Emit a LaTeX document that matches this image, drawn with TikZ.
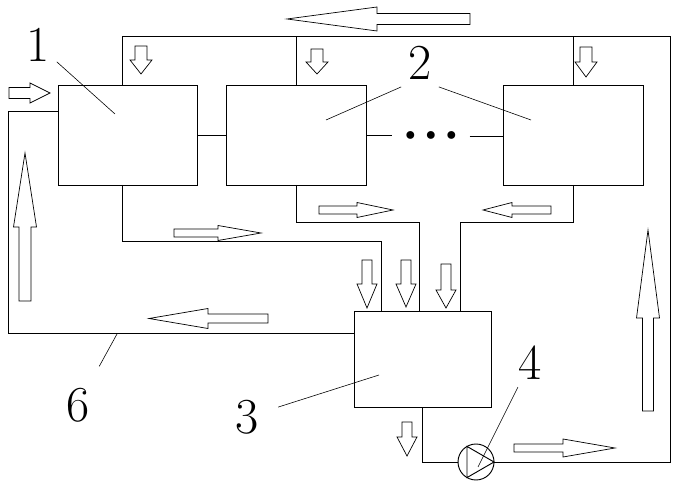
\documentclass[tikz,border=0pt]{standalone}
\usepackage{tikz}
\usetikzlibrary{positioning, calc}
\newcommand{\hflow}[6]{\draw[flow] (#1,#4-#5) -- (#2,#4-#5) -- (#2,#4-#6) -- (#3,#4) -- (#2,#4+#6) -- (#2,#4+#5) -- (#1,#4+#5) -- cycle;}
\newcommand{\vflow}[6]{\draw[flow] (#4-#5,#1) -- (#4-#5,#2) -- (#4-#6,#2) -- (#4,#3) -- (#4+#6,#2) -- (#4+#5,#2) -- (#4+#5,#1) -- cycle;}

\begin{document}
\begin{tikzpicture}[x=0.03cm, y=-0.03cm,
    unit/.style={rectangle, draw, line width=0.8pt, inner sep=0pt, outer sep=0pt},
    pipe/.style={line width=0.8pt},
    flow/.style={line width=0.6pt, line join=miter},
    leader/.style={line width=0.5pt},
    num/.style={font=\fontsize{43}{43}\selectfont, inner sep=6pt}]
    \useasboundingbox (0,0) rectangle (676,489);
    \node[unit, minimum width=4.17cm, minimum height=3cm] (b1) at (127.5,135) {};
    \node[unit, minimum width=4.2cm, minimum height=3cm] (b2) at (296,135) {};
    \node[unit, minimum width=4.2cm, minimum height=3cm] (bn) at (573,135) {};
    \node[unit, minimum width=4.11cm, minimum height=2.88cm] (tank) at (422.5,359) {};
    \node[circle, draw, line width=0.8pt, minimum size=1.08cm, inner sep=0pt, outer sep=0pt] (pump) at (476,462) {};
    \node[font=\LARGE, inner xsep=11pt, inner ysep=0pt] (dots) at (431,136) {$\bullet\hspace{5pt}\bullet\hspace{5pt}\bullet$};

    % supply line
    \coordinate (tl) at (122,36);
    \coordinate (tr) at (670,36);
    \draw[pipe] (b1.north -| tl) -- (tl) -- (tr) -- (tr |- pump.east) -- (pump.east);
    \draw[pipe] (b2.north) -- (b2.north |- tl);
    \draw[pipe] (bn.north) -- (bn.north |- tl);
    \draw[pipe] (b1.east) -- (b2.west);
    \draw[pipe] (b2.east) -- (b2.east -| dots.west);
    \draw[pipe] (dots.east) -- (dots.east -| bn.west);

    % return lines
    \coordinate (r1) at (381,241);
    \coordinate (r2) at (419,222);
    \coordinate (r3) at (460,222);
    \draw[pipe] (b1.south -| tl) |- (r1) -- (r1 |- tank.north);
    \draw[pipe] (b2.south) |- (r2) -- (r2 |- tank.north);
    \draw[pipe] (bn.south) |- (r3) -- (r3 |- tank.north);
    \coordinate (lb) at (8,333);
    \coordinate (lt) at (8,111);
    \draw[pipe] (tank.west |- lb) -- (lb) -- (lt) -- (lt -| b1.west);
    \draw[pipe] (tank.south) |- (pump.west);
    \draw[pipe] (pump.120) -- (pump.east) -- (pump.240) -- cycle;

    % labels
    \node[num] (l1) at (38,45) {1};
    \node[num] (l2) at (420,63) {2};
    \node[num] (l3) at (247,417) {3};
    \node[num] (l4) at (530,363) {4};
    \node[num] (l6) at (78,405) {6};
    \coordinate (p1) at (115,114);
    \coordinate (p2a) at (326,120);
    \coordinate (p2b) at (531,120);
    \coordinate (p3) at (379,375);
    \coordinate (p4) at (478,467);
    \coordinate (p6) at (117,334);
    \draw[leader] (l1) -- (p1);
    \draw[leader] (l2.south west) -- (p2a);
    \draw[leader] (l2.south east) -- (p2b);
    \draw[leader, shorten <=11pt] (l3) -- (p3);
    \draw[leader] (l4) -- (p4);
    \draw[leader, shorten <=14pt] (l6) -- (p6);

    % flow directions
    \hflow{470}{377}{287}{19}{5.5}{12}
    \vflow{46}{60}{74}{141}{6}{11}
    \vflow{49}{62}{74}{317}{6}{11}
    \vflow{47}{62}{77}{586}{6}{11}
    \hflow{9}{30}{50}{93}{5.5}{10}
    \hflow{174}{218}{261}{233}{4}{7.5}
    \hflow{319}{357}{393}{210}{4}{7.5}
    \hflow{551}{512}{483}{210}{4}{7.5}
    \vflow{260}{284}{308}{367}{5}{10}
    \vflow{260}{284}{307}{406}{5}{10}
    \vflow{264}{290}{308}{446}{5}{10}
    \hflow{268}{208}{149}{318.5}{4.5}{10}
    \vflow{301}{227}{153}{25}{6}{11.5}
    \vflow{411}{318}{230}{648}{5.5}{11.5}
    \vflow{422}{437}{456}{407}{5}{10}
    \hflow{514}{563}{615}{448}{4}{9}
\end{tikzpicture}
\end{document}
